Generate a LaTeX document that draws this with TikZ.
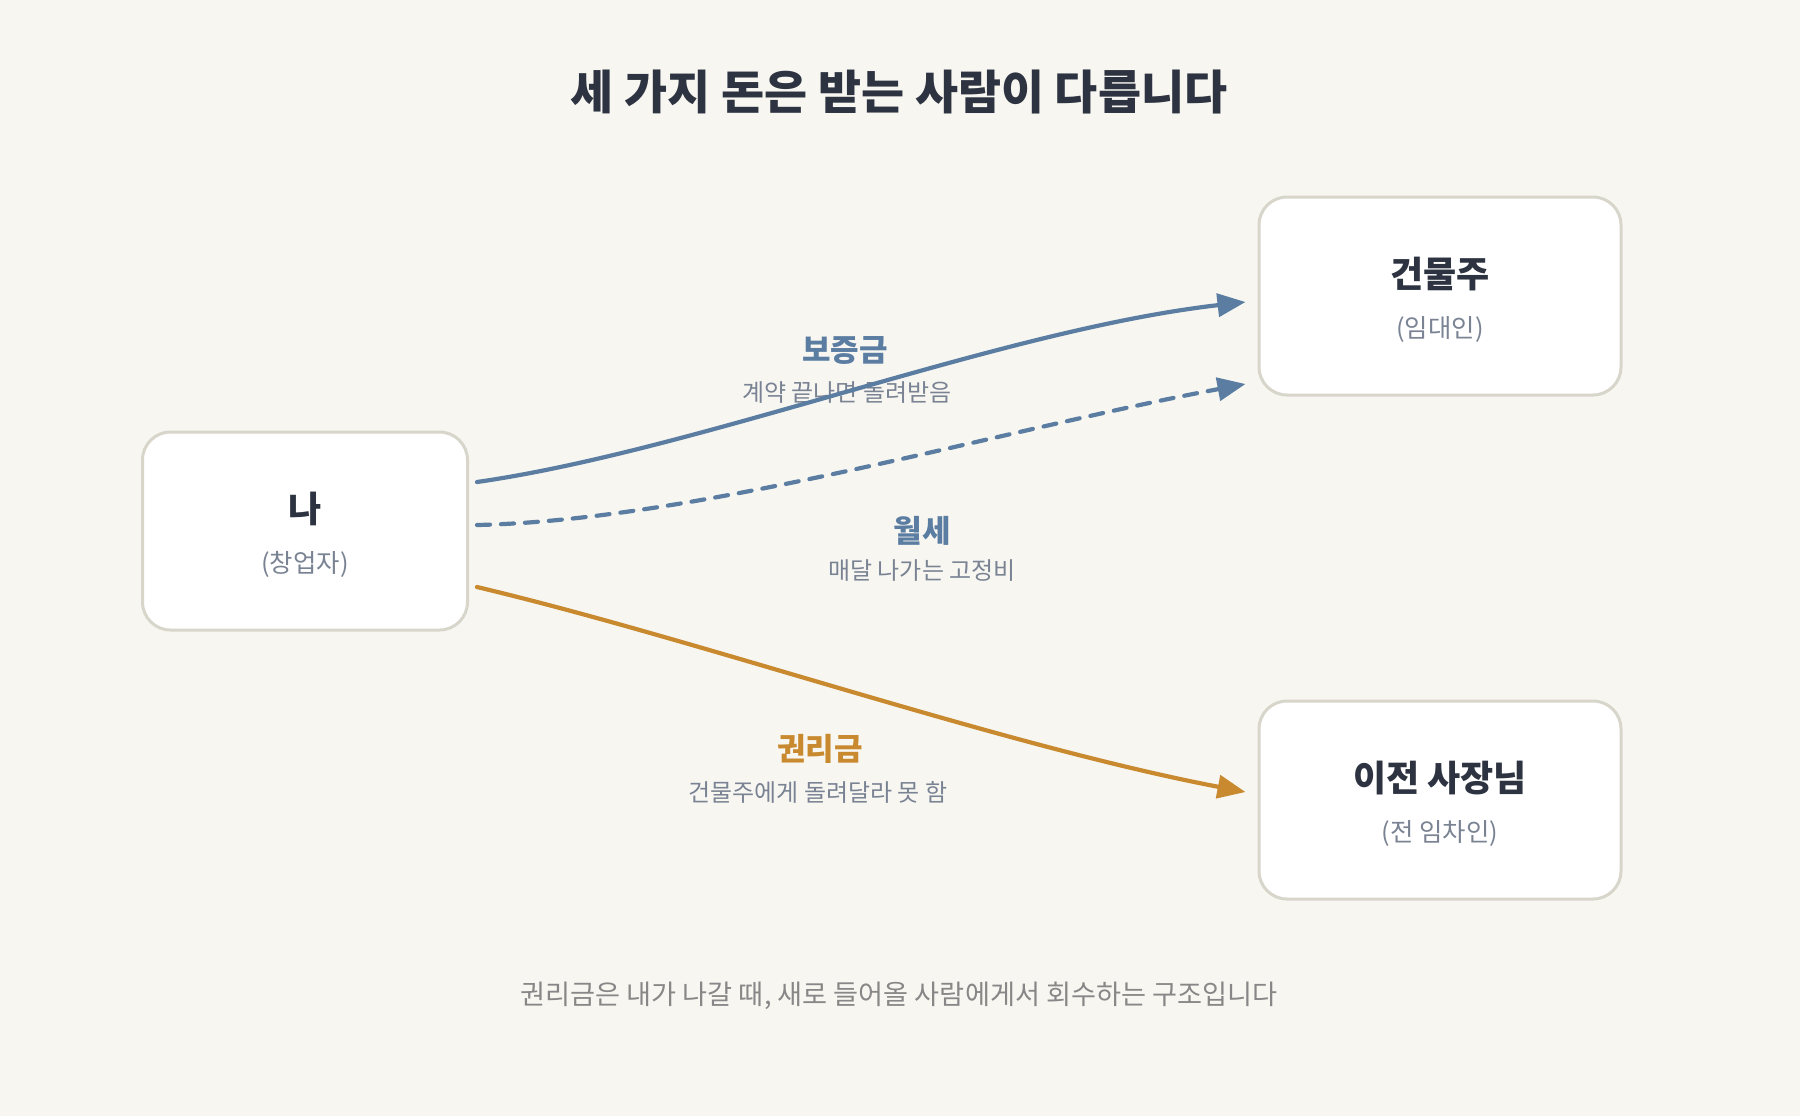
\documentclass[tikz,border=0pt]{standalone}
\usepackage{fontspec}
\setmainfont{Noto Sans CJK KR}
\usetikzlibrary{arrows.meta,calc}
\definecolor{paper}{HTML}{F7F6F1}
\definecolor{rim}{HTML}{D8D5CB}
\definecolor{ink}{HTML}{2D3340}
\definecolor{steel}{HTML}{5B7DA2}
\definecolor{amber}{HTML}{C8892F}
\definecolor{muted}{HTML}{7A8393}
\definecolor{note}{HTML}{878787}
\tikzset{
 party/.style={draw=rim,line width=1.5pt,fill=white,rounded corners=14pt,minimum height=99pt,inner sep=0pt},
 who/.style={text=ink,font=\fontsize{18}{22}\selectfont\bfseries},
 role/.style={text=muted,font=\fontsize{12.7}{15}\selectfont},
 money/.style={font=\fontsize{15.5}{18}\selectfont\bfseries},
 hint/.style={text=muted,font=\fontsize{12}{14}\selectfont},
 flow/.style={line width=2.1pt,line cap=round,-{Triangle[length=14pt,width=11.5pt]}},
}
\begin{document}
\begin{tikzpicture}[x=0.5pt,y=-0.5pt]
 \fill[paper](0,0)rectangle(1800,1116);
 \useasboundingbox(0,0)rectangle(1800,1116);
 \node[text=ink,font=\fontsize{23.4}{28}\selectfont\bfseries](title)at(899,92){세 가지 돈은 받는 사람이 다릅니다};
 % the three parties
 \node[party,minimum width=162.5pt](me)at(305,531){};
 \node[party,minimum width=181pt](lord)at(1440,296){};
 \node[party,minimum width=181pt](prev)at(1440,800){};
 \node[who]at($(me.center)+(0,-22)$){나};
 \node[role]at($(me.center)+(0,33)$){(창업자)};
 \node[who]at($(lord.center)+(0,-22)$){건물주};
 \node[role]at($(lord.center)+(0,33)$){(임대인)};
 \node[who]at($(prev.center)+(0,-22)$){이전 사장님};
 \node[role]at($(prev.center)+(0,33)$){(전 임차인)};
 % labels
 \node[money,text=steel](deposit)at(845,350){보증금};
 \node[hint]at(847,393){계약 끝나면 돌려받음};
 \node[money,text=steel](rent)at(922,531){월세};
 \node[hint]at(922,571){매달 나가는 고정비};
 \node[money,text=amber](premium)at(820,749){권리금};
 \node[hint]at(818,792){건물주에게 돌려달라 못 함};
 % arrows
 \coordinate(s1)at($(me.east)+(8,-49)$);
 \coordinate(s2)at($(me.east)+(8,-6)$);
 \coordinate(s3)at($(me.east)+(8,56)$);
 \coordinate(e1)at($(lord.west)+(-12,6)$);
 \coordinate(e2)at($(lord.west)+(-12,88)$);
 \coordinate(e3)at($(prev.west)+(-12,-8)$);
 \draw[flow,steel](s1)..controls(700,450)and(1000,330)..(e1);
 \draw[flow,steel,dash pattern=on 6.5pt off 5.5pt](s2)..controls(700,520)and(1000,430)..(e2);
 \draw[flow,amber](s3)..controls(700,640)and(1000,745)..(e3);
 \node[text=note,font=\fontsize{13.6}{16}\selectfont](footer)at(899,996){권리금은 내가 나갈 때, 새로 들어올 사람에게서 회수하는 구조입니다};
\end{tikzpicture}
\end{document}
